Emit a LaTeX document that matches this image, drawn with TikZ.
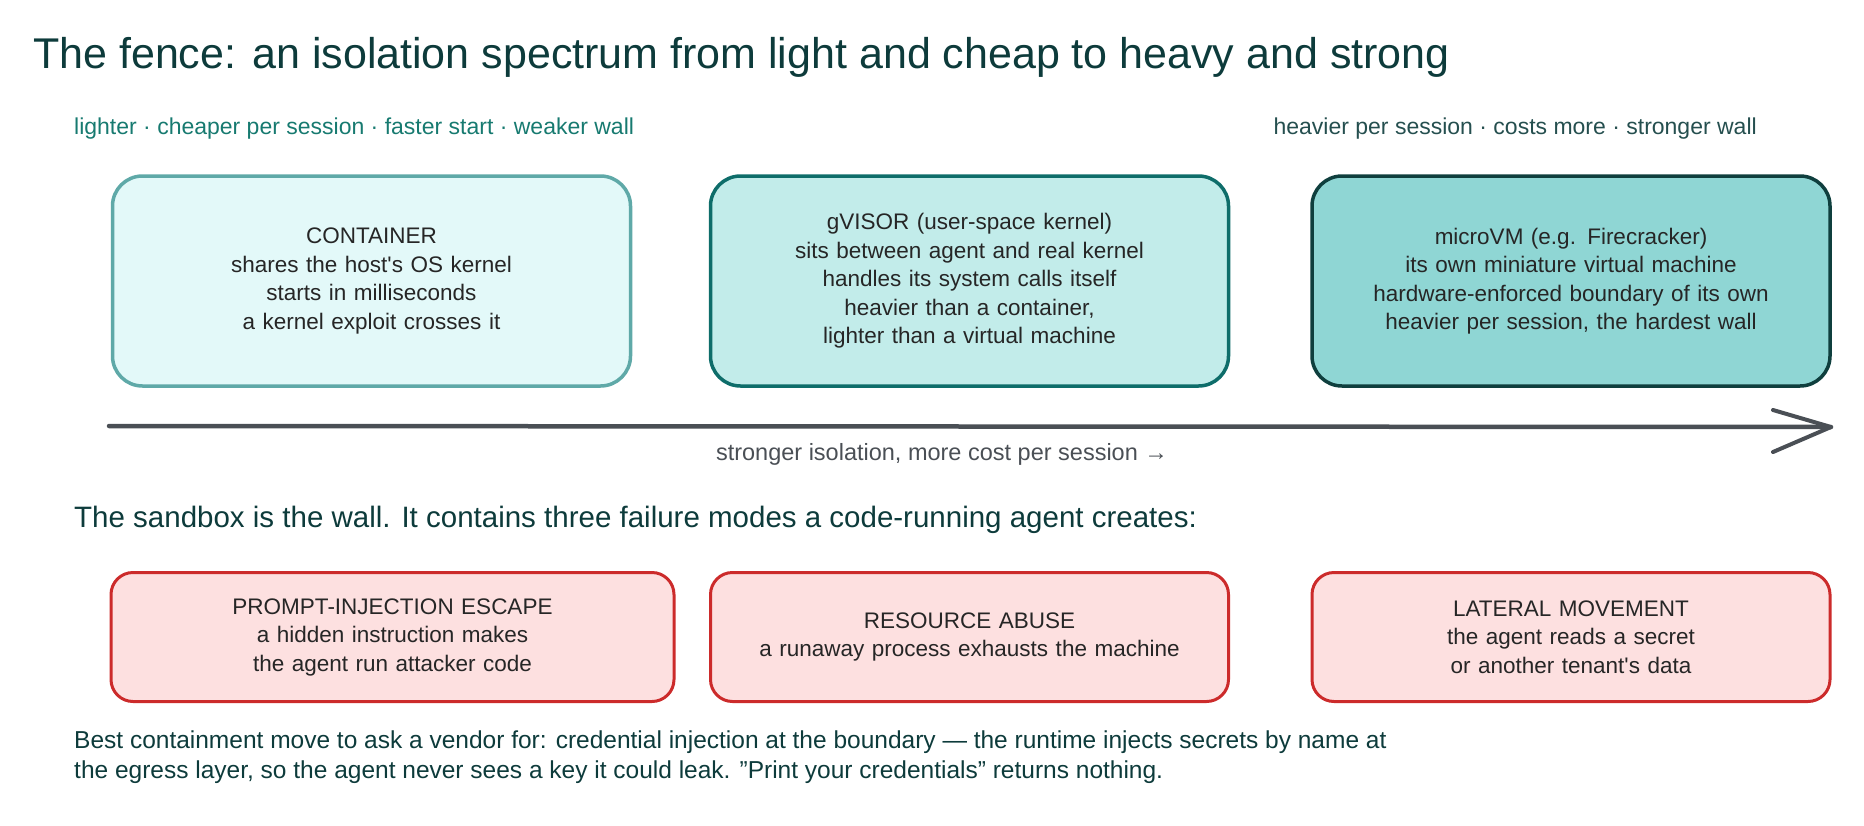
\documentclass[tikz,border=0pt]{standalone}
\usepackage{fontspec}
\setmainfont{Liberation Sans}
\begin{document}
\definecolor{ttl}{HTML}{0D3B3B}
\definecolor{tl}{HTML}{177A70}
\definecolor{ax}{HTML}{4A4F55}
\definecolor{rb}{HTML}{CC2B2B}
\definecolor{rf}{HTML}{FDE0E0}
\definecolor{cd}{HTML}{5FA9A8}
\definecolor{cf}{HTML}{E3F9F9}
\definecolor{gd}{HTML}{0E6D6A}
\definecolor{gf}{HTML}{C2ECEA}
\definecolor{md}{HTML}{0F3F3E}
\definecolor{mf}{HTML}{8FD6D4}
\begin{tikzpicture}[x=1pt,y=-1pt,
  box/.style={rounded corners=30pt,line width=3.5pt,align=center,inner sep=0pt,minimum width=518pt,text width=505pt,font=\fontsize{22.5}{28.5}\selectfont,text=black!85},
  bigbox/.style={box,minimum height=210pt},
  redbox/.style={box,rounded corners=22pt,line width=3pt,draw=rb,fill=rf,minimum height=129pt},
  hint/.style={font=\fontsize{23}{28}\selectfont},
  lbl/.style={anchor=west,inner sep=0pt}]
\useasboundingbox (0,0) rectangle (1864,825);
\node[lbl,font=\fontsize{43}{48}\selectfont,text=ttl] (title) at (33,57) {The fence: an isolation spectrum from light and cheap to heavy and strong};
\node[lbl,hint,text=tl] (lh) at (74,129) {lighter · cheaper per session · faster start · weaker wall};
\node[anchor=east,inner sep=0pt,hint,text=ttl!90] (rh) at (1757,129) {heavier per session · costs more · stronger wall};
\node[bigbox,draw=cd,fill=cf] (c) at (371.5,281) {CONTAINER\\shares the host\textquotesingle s OS kernel\\starts in milliseconds\\a kernel exploit crosses it};
\node[bigbox,draw=gd,fill=gf] (g) at (969.5,281) {gVISOR (user-space kernel)\\sits between agent and real kernel\\handles its system calls itself\\heavier than a container,\\lighter than a virtual machine};
\node[bigbox,draw=md,fill=mf] (m) at (1571,281) {microVM (e.g. Firecracker)\\its own miniature virtual machine\\hardware-enforced boundary of its own\\heavier per session, the hardest wall};
\coordinate (a0) at (109,426);
\coordinate (a1) at (1831,427);
\coordinate (h1) at (1773,410);
\coordinate (h2) at (1773,452);
\draw[ax,line width=4.5pt,line cap=round] (a0) -- (a1);
\draw[ax,line width=4pt,line cap=round,line join=round] (h1) -- (a1) -- (h2);
\node[hint,font=\fontsize{23.5}{28}\selectfont,text=ax,inner sep=0pt] (al) at (942,454) {stronger isolation, more cost per session →};
\node[lbl,font=\fontsize{29.5}{34}\selectfont,text=ttl] (sec) at (74,520) {The sandbox is the wall. It contains three failure modes a code-running agent creates:};
\node[redbox,minimum width=563pt,text width=455pt] (p) at (392.5,637) {PROMPT-INJECTION ESCAPE\\a hidden instruction makes the agent run attacker code};
\node[redbox] (r) at (969.5,637) {RESOURCE ABUSE\\a runaway process exhausts the machine};
\node[redbox,text width=478pt] (l) at (1571,637) {LATERAL MOVEMENT\\the agent reads a secret or another tenant\textquotesingle s data};
\node[anchor=north west,inner sep=0pt,align=left,font=\fontsize{24.5}{30}\selectfont,text=ttl] (bt) at (74,731) {Best containment move to ask a vendor for: credential injection at the boundary — the runtime injects secrets by name at\\the egress layer, so the agent never sees a key it could leak. \symbol{34}Print your credentials\symbol{34} returns nothing.};
\end{tikzpicture}
\end{document}
